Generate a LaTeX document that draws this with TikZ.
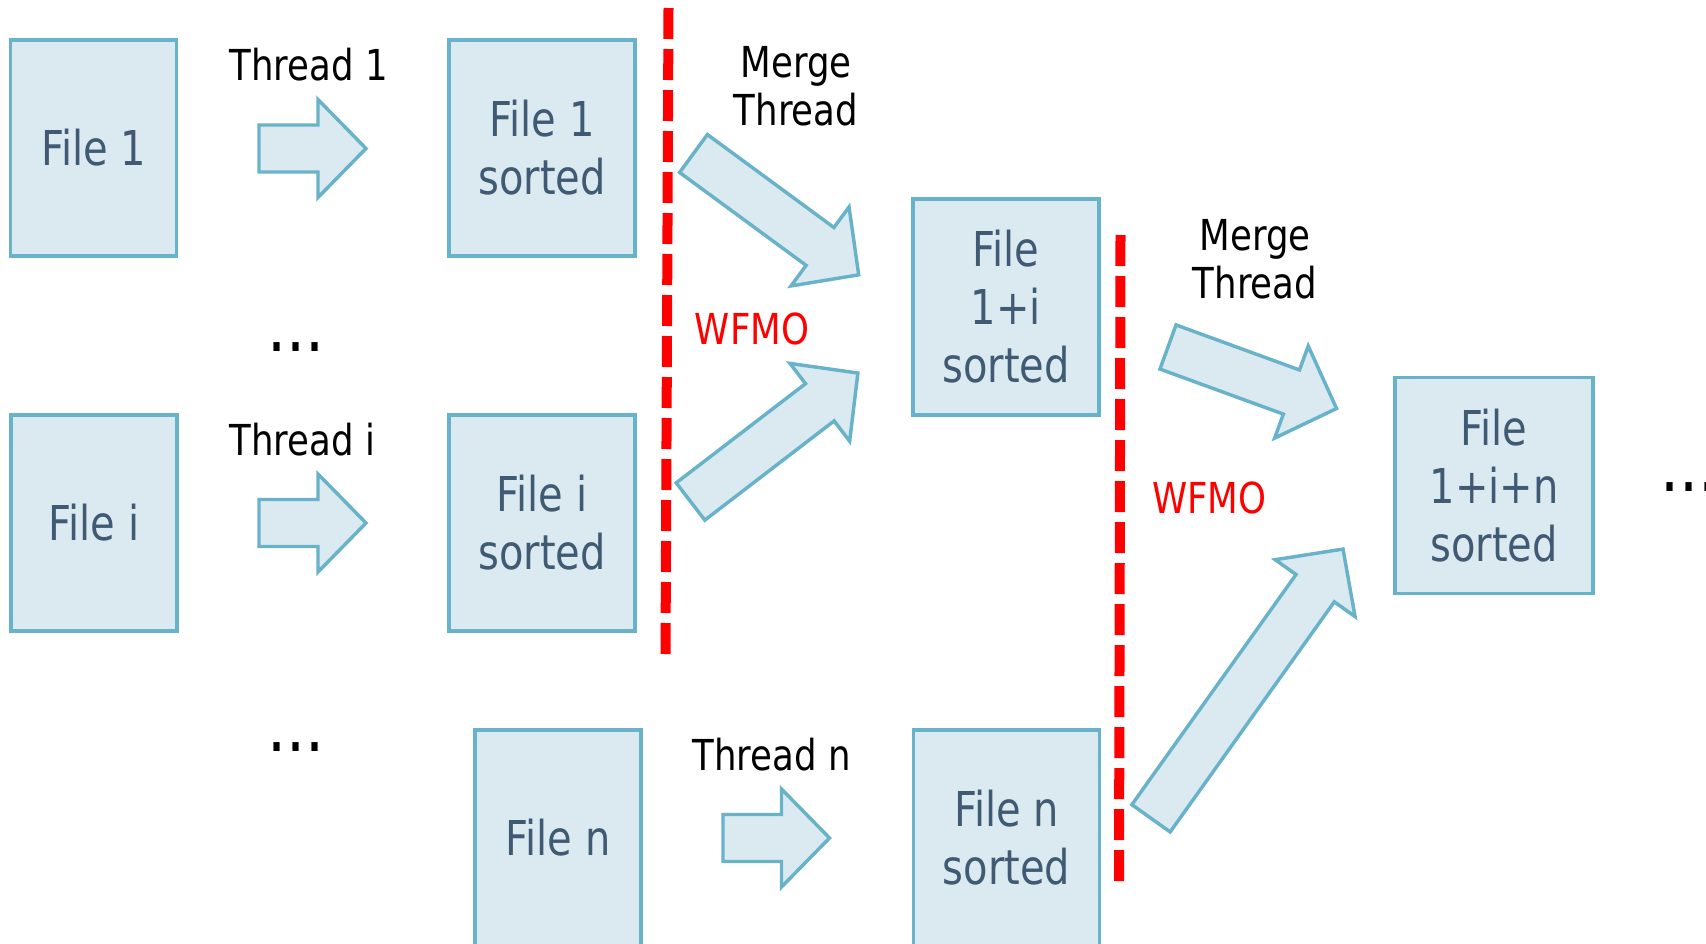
\documentclass[tikz,border=0pt]{standalone}
\usepackage{fontspec}
\setmainfont{DejaVu Sans}[FakeStretch=0.833]
\usepackage{tikz}
\usepackage{xcolor}
\definecolor{boxfill}{HTML}{DBEAF1}
\definecolor{boxline}{HTML}{68B3CA}
\definecolor{boxtext}{HTML}{3F5A72}
\tikzset{every picture/.style={line width=0.75pt}}
\tikzset{
  filebox/.style={draw=boxline, fill=boxfill, line width=2.6pt, text=boxtext, font=\fontsize{36}{43.5}\selectfont, align=center, inner sep=0pt, minimum height=162pt},
  lbltext/.style={font=\fontsize{32}{36}\selectfont, inner sep=0pt},
  wfmotext/.style={lbltext, text=red},
  dotstext/.style={font=\fontsize{54}{54}\selectfont, inner sep=0pt},
  arrowshape/.style={draw=boxline, fill=boxfill, line width=2.6pt},
  wfmoline/.style={draw=red, line width=7.5pt, dash pattern=on 23.25pt off 7.5pt}
}
% block arrow: tail x, tail y, angle, length
\newcommand{\blockarrow}[4]{%
  \begin{scope}[shift={(#1,#2)},rotate=#3]
    \draw[arrowshape] (0,-23.5) -- ({#4-48},-23.5) -- ({#4-48},-49) -- (#4,0) -- ({#4-48},49) -- ({#4-48},23.5) -- (0,23.5) -- cycle;
  \end{scope}}

\begin{document}
\begin{tikzpicture}[x=0.75pt,y=0.75pt,yscale=-1,xscale=1]
\useasboundingbox (0,0) rectangle (1706,943);

% Right Arrows (threads)
\blockarrow{259}{148.5}{0}{107}
\blockarrow{259}{523}{0}{107}
\blockarrow{723}{838}{0}{106.5}
% Merge arrows
\blockarrow{693.5}{153.5}{36.3}{205}
\blockarrow{690.5}{501.5}{-37.5}{211}
\blockarrow{1168}{347}{20.05}{179.4}
\blockarrow{1151}{818.3}{-54.5}{330.7}

% File boxes
\node[filebox, minimum width=124.5pt] (file1) at (93.7,148) {File 1};
\node[filebox, minimum width=139.5pt] (sorted1) at (542,148) {File 1\\sorted};
\node[filebox, minimum width=124.5pt] (filei) at (93.8,523) {File i};
\node[filebox, minimum width=139.5pt] (sortedi) at (542,523) {File i\\sorted};
\node[filebox, minimum width=124.5pt] (filen) at (558,838) {File n};
\node[filebox, minimum width=139.5pt] (sortedn) at (1006.5,838) {File n\\sorted};
\node[filebox, minimum width=139.5pt] (merged1) at (1006,307) {File\\1+i\\sorted};
\node[filebox, minimum width=148.5pt] (merged2) at (1494,485.5) {File\\1+i+n\\sorted};

% WFMO lines
\draw[wfmoline] (668.5,8) -- (665.5,655);
\draw[wfmoline] (1120.5,235) -- (1119,881);

% Text Nodes
\node[lbltext, anchor=base west] (thread1) at (229,80) {Thread 1};
\node[lbltext, anchor=base west] (threadi) at (229,455) {Thread i};
\node[lbltext, anchor=base west] (threadn) at (692,770) {Thread n};
\node[lbltext, align=center] (merge1) at (796,86.5) {Merge\\Thread};
\node[lbltext, align=center] (merge2) at (1255,259) {Merge\\Thread};
\node[wfmotext] (wfmo1) at (752,328.5) {WFMO};
\node[wfmotext] (wfmo2) at (1209.5,498) {WFMO};
\node[dotstext] (dots1) at (296,347) {...};
\node[dotstext] (dots2) at (296,747.5) {...};
\node[dotstext] (dots3) at (1689,487) {...};

\end{tikzpicture}
\end{document}
